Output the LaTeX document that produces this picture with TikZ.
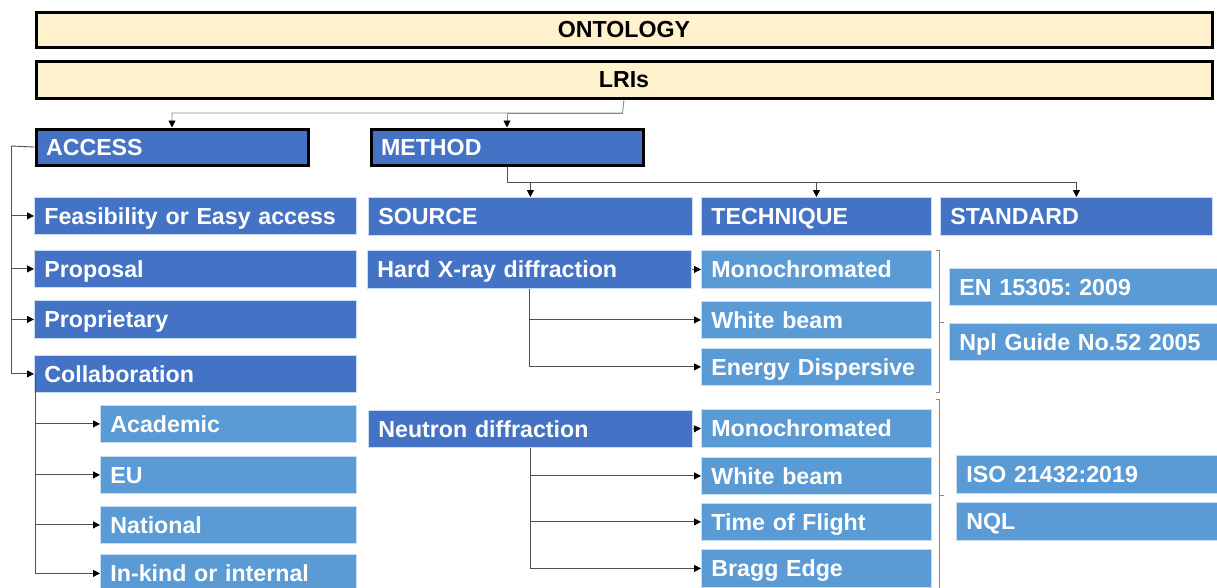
\documentclass[tikz,border=0pt]{standalone}
\usepackage{fontspec}
\setmainfont{Liberation Sans}
\frenchspacing
\usetikzlibrary{arrows.meta,calc}
\definecolor{dkblue}{HTML}{4472C4}
\definecolor{ltblue}{HTML}{5B9BD5}
\definecolor{cream}{HTML}{FFF2CC}
\definecolor{rim}{HTML}{C9DCF0}
\definecolor{wire}{HTML}{505050}
\definecolor{wirelight}{HTML}{8C8C8C}
\begin{document}
\begin{tikzpicture}[x=1pt,y=-1pt,
  base/.style={rectangle, anchor=north west, inner xsep=10pt, inner ysep=0pt,
    text height=16.6pt, text depth=0pt, align=left,
    font=\bfseries\fontsize{23.2}{28}\selectfont},
  head/.style={base, fill=cream, draw=black, line width=3pt, text=black,
    minimum width=1176pt, align=center},
  topic/.style={base, fill=dkblue, draw=black, line width=3pt, text=white,
    text width=252pt, minimum height=36pt},
  dark/.style={base, fill=dkblue, draw=rim, line width=0.8pt, text=white},
  light/.style={base, fill=ltblue, draw=rim, line width=0.8pt, text=white},
  tw/.style={text width=#1pt},
  ht/.style={minimum height=#1pt},
  tip/.style={-{Triangle[length=7pt,width=7pt,color=black]}},
  conn/.style={draw=wire, line width=0.9pt},
  gconn/.style={draw=wirelight, line width=0.9pt},
  brk/.style={draw=wirelight, line width=0.8pt}
]
\useasboundingbox (0,0) rectangle (1217,587);

% header bars
\node[head, ht=35] (ont) at (34.5,10.5) {ONTOLOGY};
\node[head, ht=37] (lri) at (34.5,59.5) {LRIs};

% main branches
\node[topic] (access) at (34.5,127.5) {ACCESS};
\node[topic] (method) at (369.5,127.5) {METHOD};

% access column
\node[dark, tw=302, ht=37] (feas)  at (34,197) {Feasibility or Easy access};
\node[dark, tw=302, ht=37] (prop)  at (34,250) {Proposal};
\node[dark, tw=302, ht=38] (propr) at (34,300) {Proprietary};
\node[dark, tw=302, ht=37] (coll)  at (34,355) {Collaboration};
\node[light, tw=236, ht=37] (acad)   at (100,405) {Academic};
\node[light, tw=236, ht=37] (eu)     at (100,456) {EU};
\node[light, tw=236, ht=37] (nat)    at (100,506) {National};
\node[light, tw=236, ht=38] (inkind) at (100,554) {In-kind or internal};

% method headers
\node[dark, tw=304, ht=38] (source) at (368,197) {SOURCE};
\node[dark, tw=210, ht=38] (tech)   at (701,197) {TECHNIQUE};
\node[dark, tw=252, ht=38] (std)    at (940,197) {STANDARD};

% X-ray group
\node[dark, tw=304, ht=38] (hx)    at (367,250) {Hard X-ray diffraction};
\node[light, tw=210, ht=38] (mono1) at (701,250) {Monochromated};
\node[light, tw=210, ht=37] (wb1)   at (701,301) {White beam};
\node[light, tw=210, ht=37] (ed)    at (701,348) {Energy Dispersive};
\node[light, tw=261, ht=37] (en)    at (949,268) {EN 15305: 2009};
\node[light, tw=261, ht=37] (npl)   at (949,323) {Npl Guide No.52 2005};

% neutron group
\node[dark, tw=304, ht=37] (nd)    at (368,410) {Neutron diffraction};
\node[light, tw=210, ht=38] (mono2) at (701,409) {Monochromated};
\node[light, tw=210, ht=37] (wb2)   at (701,457) {White beam};
\node[light, tw=210, ht=37] (tof)   at (701,503) {Time of Flight};
\node[light, tw=210, ht=38] (bragg) at (701,549) {Bragg Edge};
\node[light, tw=254, ht=38] (iso)   at (956,455) {ISO 21432:2019};
\node[light, tw=254, ht=38] (nql)   at (956,502) {NQL};

% LRIs to the two branches
\coordinate (j1) at (622.5,113);
\draw[gconn, tip] (lri.south) -- (j1) -| (access.north);
\draw[gconn, tip] (j1) -| (method.north);

% METHOD to its three headers
\coordinate (j2) at ($(method.south)+(0,16)$);
\draw[conn, tip] (method.south) -- (j2) -| (source.north);
\draw[conn, tip] (j2) -| (tech.north);
\draw[conn, tip] (j2) -| (std.north);

% ACCESS to its options
\coordinate (j3) at (11,146);
\draw[conn] (access.west) -- (j3);
\draw[conn, tip] (j3) |- (feas.west);
\draw[conn, tip] (j3) |- (prop.west);
\draw[conn, tip] (j3) |- (propr.west);
\draw[conn, tip] (j3) |- (coll.west);

% collaboration kinds
\coordinate (j4) at (35,374);
\draw[conn, tip] (j4) |- (acad.west);
\draw[conn, tip] (j4) |- (eu.west);
\draw[conn, tip] (j4) |- (nat.west);
\draw[conn, tip] (j4) |- (inkind.west);

% sources to techniques
\draw[conn, tip] (hx.east) -- (mono1.west);
\draw[conn, tip] (hx.south) |- (wb1.west);
\draw[conn, tip] (hx.south) |- (ed.west);
\draw[conn, tip] (nd.east) -- (mono2.west);
\draw[conn, tip] (nd.south) |- (wb2.west);
\draw[conn, tip] (nd.south) |- (tof.west);
\draw[conn, tip] (nd.south) |- (bragg.west);

% brackets grouping techniques with standards
\draw[brk] (935.5,250) -- (939.5,250) -- (939.5,392) -- (935.5,392);
\draw[brk] (939.5,322) -- (943.5,322);
\draw[brk] (935.5,399) -- (939.5,399) -- (939.5,600);
\draw[brk] (939.5,495) -- (943.5,495);
\end{tikzpicture}
\end{document}
